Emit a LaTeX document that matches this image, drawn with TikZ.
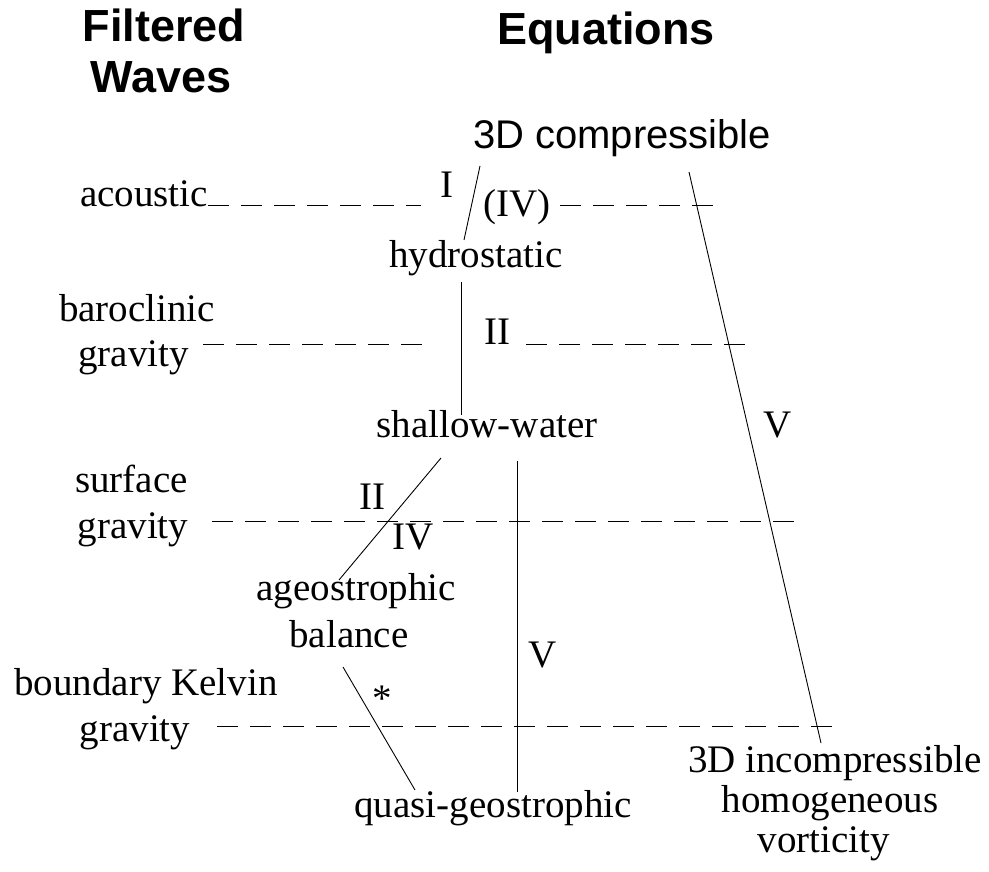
\documentclass[tikz,border=0pt]{standalone}
\usepackage{fontspec}
\setmainfont{Liberation Serif}
\newfontfamily\hv{Liberation Sans}
\begin{document}
\begin{tikzpicture}[x=1pt,y=-1pt,
  tm/.style={inner sep=0pt,anchor=base,font=\fontsize{39}{41}\selectfont},
  ttl/.style={inner sep=0pt,anchor=base,font=\hv\bfseries\fontsize{45}{50}\selectfont},
  hvl/.style={inner sep=0pt,anchor=base,font=\hv\fontsize{40}{42}\selectfont},
  ln/.style={line width=0.9pt},
  dl/.style={line width=0.9pt,dash pattern=on 21pt off 12pt}]
\useasboundingbox (0,0) rectangle (989,872);
% titles
\node[ttl] (fw1) at (164,42) {Filtered};
\node[ttl] (fw2) at (161,93) {Waves};
\node[ttl] (eq) at (606,45) {Equations};
% equation nodes
\node[hvl] (comp) at (622,149) {3D compressible};
\node[tm] (hydro) at (476,268) {hydrostatic};
\node[tm] (shallow) at (487,437) {shallow-water};
\node[tm] (ageo1) at (356,600) {ageostrophic};
\node[tm] (ageo2) at (349,647) {balance};
\node[tm] (qg) at (493,817) {quasi-geostrophic};
\node[tm] (inc1) at (835,772) {3D incompressible};
\node[tm] (inc2) at (830,812) {homogeneous};
\node[tm] (inc3) at (824,852) {vorticity};
% wave labels
\node[tm] (ac) at (144,207) {acoustic};
\node[tm] (bc1) at (137,321) {baroclinic};
\node[tm] (bc2) at (133.5,366) {gravity};
\node[tm] (sg1) at (131.5,492) {surface};
\node[tm] (sg2) at (133,538) {gravity};
\node[tm] (bk1) at (146,695) {boundary Kelvin};
\node[tm] (bk2) at (135,741) {gravity};
% roman labels
\node[tm] (rI) at (447,198) {I};
\node[tm] (rIVp) at (517,217) {(IV)};
\node[tm] (rII) at (497,344) {II};
\node[tm] (rVa) at (778,437) {V};
\node[tm] (rII2) at (372,509) {II};
\node[tm] (rIV) at (413,549) {IV};
\node[tm] (rVb) at (543,667) {V};
\node[tm] (star) at (382,711) {*};
% connector end points
\coordinate (a1) at (480,166); \coordinate (a2) at (464,240);
\coordinate (b1) at (689,172); \coordinate (b2) at (821,743);
\coordinate (c1) at (461,282); \coordinate (c2) at (461,415);
\coordinate (d1) at (441,458); \coordinate (d2) at (339,580);
\coordinate (e1) at (517,461); \coordinate (e2) at (517,792);
\coordinate (f1) at (343,667); \coordinate (f2) at (415,790);
\draw[ln] (a1) -- (a2);
\draw[ln] (b1) -- (b2);
\draw[ln] (c1) -- (c2);
\draw[ln] (d1) -- (d2);
\draw[ln] (e1) -- (e2);
\draw[ln] (f1) -- (f2);
% dashed filter lines
\coordinate (p1) at (208,205); \coordinate (p2) at (421,205);
\coordinate (p3) at (560,205); \coordinate (p4) at (713,205);
\coordinate (q1) at (203,344); \coordinate (q2) at (426,344);
\coordinate (q3) at (526,344); \coordinate (q4) at (751,344);
\coordinate (r1) at (212,521); \coordinate (r2) at (794,521);
\coordinate (s1) at (217,726); \coordinate (s2) at (836,726);
\draw[dl] (p1) -- (p2);
\draw[dl] (p3) -- (p4);
\draw[dl] (q1) -- (q2);
\draw[dl] (q3) -- (q4);
\draw[dl] (r1) -- (r2);
\draw[dl] (s1) -- (s2);
\end{tikzpicture}
\end{document}
